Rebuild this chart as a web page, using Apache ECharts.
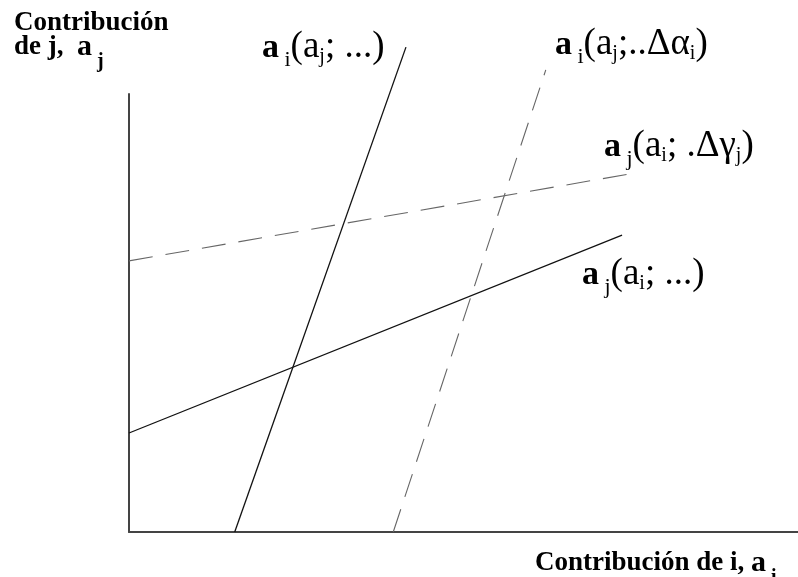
<!DOCTYPE html>
<html>
<head>
<meta charset="utf-8">
<script src="https://cdn.jsdelivr.net/npm/echarts@6/dist/echarts.min.js"></script>
<style>
  html, body { margin: 0; padding: 0; background: #fff; }
  #chart { width: 798px; height: 577px; }
</style>
</head>
<body>
<div id="chart"></div>
<script>
// Reaction functions: endpoints of each line in axis units (0..100 on both axes)
const aiBase    = [[15.8, 0], [41.4, 110.7]];   // a_i(a_j; ...)
const aiShifted = [[39.5, 0], [62.3, 105.5]];   // a_i(a_j;..Δα_i)
const ajBase    = [[0, 22.6], [73.7, 67.8]];    // a_j(a_i; ...)
const ajShifted = [[0, 61.9], [75.8, 82.0]];    // a_j(a_i; .Δγ_j)

const xRange = [0, 100];
const yRange = [0, 100];

const serif = '"Liberation Serif", "Times New Roman", serif';
const ink = '#111';

function labelRich() {
  return {
    A: { fontFamily: serif, fontSize: 34, fontWeight: 'bold', color: ink, verticalAlign: 'top', lineHeight: 34, padding: [2, 0, 0, 0] },
    T: { fontFamily: serif, fontSize: 37, color: ink, verticalAlign: 'top', lineHeight: 37 },
    S: { fontFamily: serif, fontSize: 22, color: ink, verticalAlign: 'top', lineHeight: 22, padding: [20, 0, 0, 0] },
    s: { fontFamily: serif, fontSize: 20, color: ink, verticalAlign: 'top', lineHeight: 20, padding: [18, 0, 0, 0] }
  };
}

function titleRich() {
  return {
    t: { fontFamily: serif, fontSize: 27, fontWeight: 'bold', color: ink, verticalAlign: 'top', lineHeight: 27 },
    a: { fontFamily: serif, fontSize: 30, fontWeight: 'bold', color: ink, verticalAlign: 'top', lineHeight: 30, padding: [-2, 0, 0, 0] },
    s: { fontFamily: serif, fontSize: 20, fontWeight: 'bold', color: ink, verticalAlign: 'top', lineHeight: 20, padding: [18, 0, 0, 0] }
  };
}

const chart = echarts.init(document.getElementById('chart'), null, { renderer: 'canvas' });

const solid = { color: '#111', width: 1.3, type: 'solid' };
const dashed = { color: '#666', width: 1.1, type: [24, 13] };

function lineSeries(name, data, style) {
  return {
    name: name,
    type: 'line',
    data: data,
    clip: false,
    symbol: 'none',
    silent: true,
    lineStyle: style,
    animation: false
  };
}

chart.setOption({
  animation: false,
  backgroundColor: '#fff',
  grid: { left: 129, right: 0, top: 94, bottom: 45 },
  xAxis: {
    type: 'value', min: xRange[0], max: xRange[1],
    axisLine: { show: true, lineStyle: { color: '#444', width: 2 } },
    axisTick: { show: false }, axisLabel: { show: false }, splitLine: { show: false }
  },
  yAxis: {
    type: 'value', min: yRange[0], max: yRange[1],
    axisLine: { show: true, lineStyle: { color: '#444', width: 2 } },
    axisTick: { show: false }, axisLabel: { show: false }, splitLine: { show: false }
  },
  series: [
    lineSeries('a_i(a_j; ...)', aiBase, solid),
    lineSeries('a_i(a_j;..Δα_i)', aiShifted, dashed),
    lineSeries('a_j(a_i; ...)', ajBase, solid),
    lineSeries('a_j(a_i; .Δγ_j)', ajShifted, dashed)
  ],
  graphic: [
    { type: 'text', left: 14, top: 10, silent: true,
      style: { text: '{t|Contribución}', rich: titleRich() } },
    { type: 'text', left: 14, top: 32, silent: true,
      style: { text: '{t|de j,  }{a|a}{s| j}', rich: titleRich() } },
    { type: 'text', left: 535, top: 548, silent: true,
      style: { text: '{t|Contribución de i, }{a|a}{s| i}', rich: titleRich() } },
    { type: 'text', left: 262, top: 29, silent: true,
      style: { text: '{A|a}{S| i}{T|(a}{s|j}{T|; ...)}', rich: labelRich() } },
    { type: 'text', left: 555, top: 26, silent: true,
      style: { text: '{A|a}{S| i}{T|(a}{s|j}{T|;..Δα}{s|i}{T|)}', rich: labelRich() } },
    { type: 'text', left: 604, top: 128, silent: true,
      style: { text: '{A|a}{S| j}{T|(a}{s|i}{T|; .Δγ}{s|j}{T|)}', rich: labelRich() } },
    { type: 'text', left: 582, top: 256, silent: true,
      style: { text: '{A|a}{S| j}{T|(a}{s|i}{T|; ...)}', rich: labelRich() } }
  ]
});
</script>
</body>
</html>
